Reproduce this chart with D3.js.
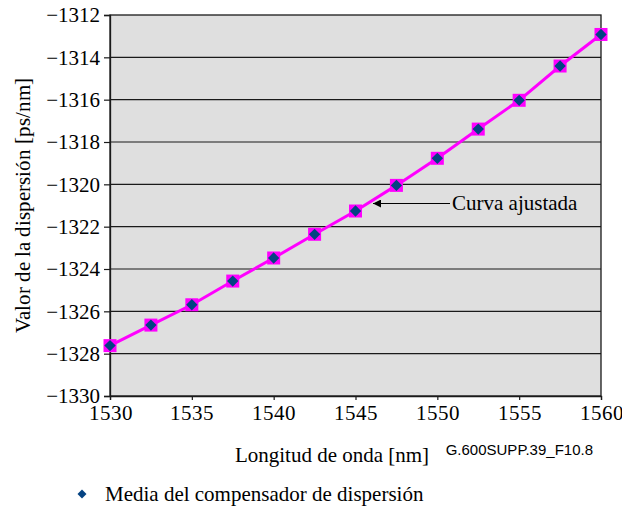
<!DOCTYPE html>
<html>
<head>
<meta charset="utf-8">
<script src="https://cdn.jsdelivr.net/npm/d3@7"></script>
<style>
  @font-face { font-family: "ChartSerif"; src: local("Liberation Serif"), local("LiberationSerif"), local("Liberation Serif Regular"), local("LiberationSerif-Regular"); }
  html, body { margin: 0; padding: 0; background: #ffffff; }
  svg { display: block; }
</style>
</head>
<body>
<svg id="chart" width="622" height="511"></svg>
<script>
const wavelengths = [1530, 1532.5, 1535, 1537.5, 1540, 1542.5, 1545, 1547.5, 1550, 1552.5, 1555, 1557.5, 1560];
const dispersion = [-1327.62, -1326.65, -1325.69, -1324.57, -1323.48, -1322.36, -1321.26, -1320.05, -1318.77, -1317.39, -1316.03, -1314.41, -1312.92];
const xTicks = [1530, 1535, 1540, 1545, 1550, 1555, 1560];
const yTicks = [-1330, -1328, -1326, -1324, -1322, -1320, -1318, -1316, -1314, -1312];
const xTitle = "Longitud de onda [nm]";
const yTitle = "Valor de la dispersión [ps/nm]";
const legendLabel = "Media del compensador de dispersión";
const annotationLabel = "Curva ajustada";
const figureId = "G.600SUPP.39_F10.8";

const SERIF = "'Liberation Serif', 'Times New Roman', serif";
const SANS = "'Liberation Sans', Arial, sans-serif";

const svg = d3.select("#chart");
const L = 110, R = 601, T = 15, B = 396;

const x = d3.scaleLinear().domain([1530, 1560]).range([L, R]);
const y = d3.scaleLinear().domain([-1330, -1312]).range([B, T]);

svg.append("rect").attr("x", L).attr("y", T).attr("width", R - L).attr("height", B - T)
  .attr("fill", "#dfdfdf");

svg.append("g").selectAll("line").data(yTicks.slice(1, -1)).join("line")
  .attr("x1", L).attr("x2", R)
  .attr("y1", d => y(d)).attr("y2", d => y(d))
  .attr("stroke", "#1a1a1a").attr("stroke-width", 1.2);

svg.append("rect").attr("x", L).attr("y", T).attr("width", R - L).attr("height", B - T)
  .attr("fill", "none").attr("stroke", "#1a1a1a").attr("stroke-width", 1.3);

const fmt = d => (d < 0 ? "\u2212" + Math.abs(d) : String(d));

const yAxis = svg.append("g").attr("transform", `translate(${L},0)`)
  .call(d3.axisLeft(y).tickValues(yTicks).tickFormat(fmt).tickSize(6).tickPadding(4))
  .attr("font-family", null).attr("font-size", null);
yAxis.select(".domain").attr("stroke", "#1a1a1a").attr("stroke-width", 1.3);
yAxis.selectAll(".tick line").attr("stroke", "#1a1a1a").attr("stroke-width", 1.2);
yAxis.selectAll("text").style("font-size", "21px", "important").style("font-family", SERIF, "important").attr("fill", "#000");

const xAxis = svg.append("g").attr("transform", `translate(0,${B})`)
  .call(d3.axisBottom(x).tickValues(xTicks).tickFormat(d => d).tickSize(4).tickPadding(5))
  .attr("font-family", null).attr("font-size", null);
xAxis.select(".domain").attr("stroke", "#1a1a1a").attr("stroke-width", 1.3);
xAxis.selectAll(".tick line").attr("stroke", "#1a1a1a").attr("stroke-width", 1.2);
xAxis.selectAll("text").attr("font-size", 21).attr("font-family", "ChartSerif").attr("fill", "#000");

const line = d3.line().x((d, i) => x(wavelengths[i])).y(d => y(d));
svg.append("path").datum(dispersion).attr("d", line)
  .attr("fill", "none").attr("stroke", "#ff00ff").attr("stroke-width", 3);

svg.append("g").selectAll("rect").data(dispersion).join("rect")
  .attr("x", (d, i) => x(wavelengths[i]) - 6.5).attr("y", d => y(d) - 6.5)
  .attr("width", 13).attr("height", 13).attr("fill", "#ff00ff");

const diamond = d3.symbol().type(d3.symbolSquare).size(64);
svg.append("g").selectAll("path").data(dispersion).join("path")
  .attr("d", diamond)
  .attr("transform", (d, i) => `translate(${x(wavelengths[i])},${y(d)}) rotate(45)`)
  .attr("fill", "#044382");

svg.append("defs").append("marker").attr("id", "arrow")
  .attr("viewBox", "0 0 10 10").attr("refX", 10).attr("refY", 5)
  .attr("markerWidth", 10).attr("markerHeight", 8).attr("markerUnits", "userSpaceOnUse")
  .attr("orient", "auto")
  .append("path").attr("d", "M0,0 L10,5 L0,10 Z").attr("fill", "#000");
svg.append("line").attr("x1", 450).attr("y1", 203.5).attr("x2", 373).attr("y2", 203.5)
  .attr("stroke", "#000").attr("stroke-width", 1.2).attr("marker-end", "url(#arrow)");
svg.append("text").attr("x", 452).attr("y", 210)
  .attr("font-family", "Liberation Serif").attr("font-size", 21).text(annotationLabel);

svg.append("text").attr("x", 332).attr("y", 462).attr("text-anchor", "middle")
  .attr("font-family", "Liberation Serif").attr("font-size", 21).text(xTitle);
svg.append("text").attr("transform", `translate(30,${(T + B) / 2}) rotate(-90)`)
  .attr("text-anchor", "middle")
  .style("font-family", "ChartSerif").style("font-size", "21px").text(yTitle);

svg.append("text").attr("x", 593).attr("y", 455).attr("text-anchor", "end")
  .attr("font-family", "Liberation Sans").attr("font-size", 15).text(figureId);

svg.append("path").attr("d", d3.symbol().type(d3.symbolSquare).size(40))
  .attr("transform", "translate(82,494) rotate(45)").attr("fill", "#044382");
svg.append("text").attr("x", 105).attr("y", 501)
  .attr("font-family", "Times New Roman").attr("font-size", 21).text(legendLabel);
</script>
</body>
</html>
